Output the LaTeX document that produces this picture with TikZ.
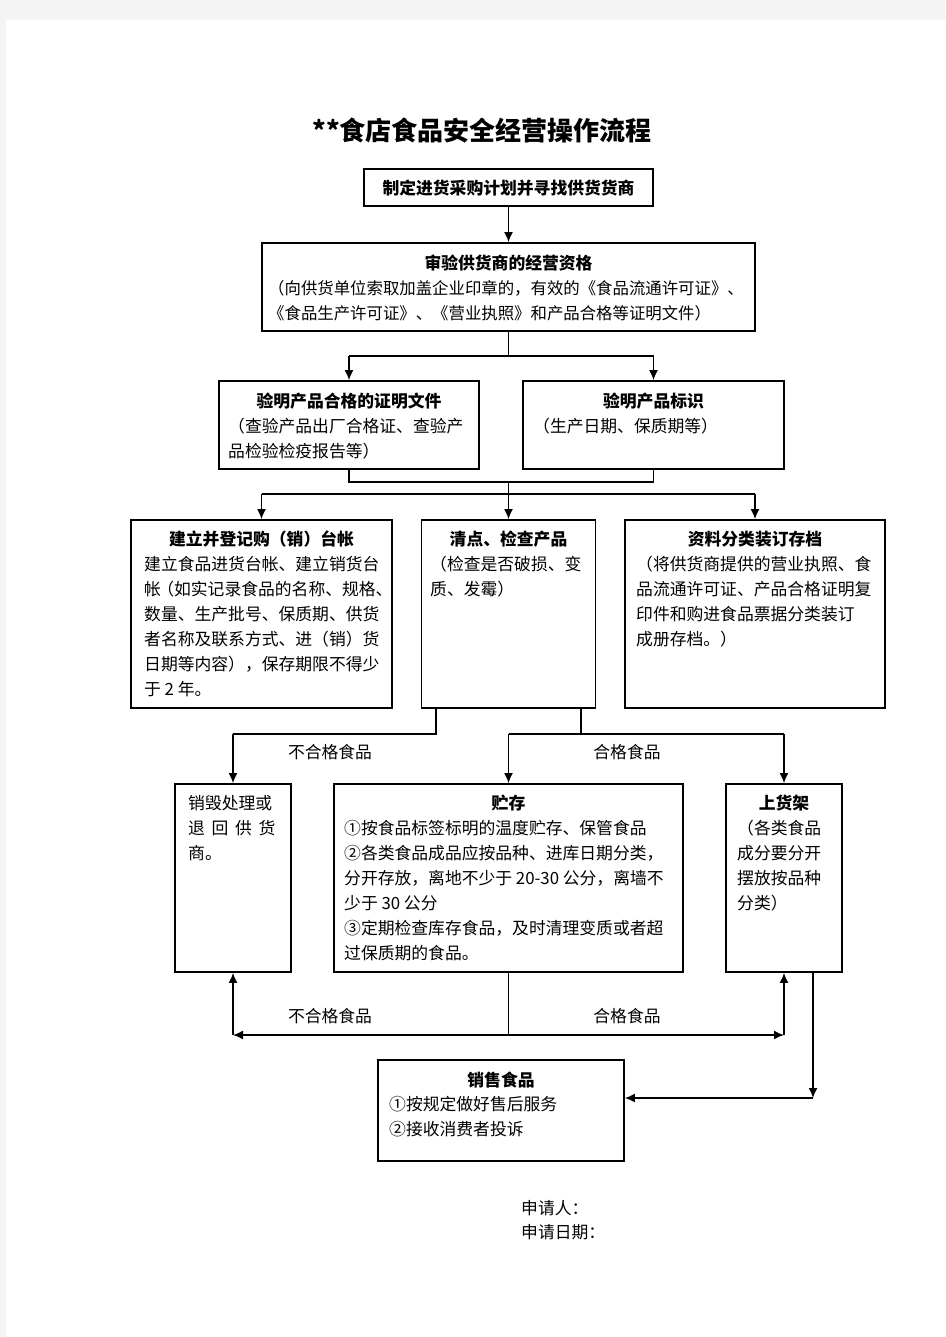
\documentclass[tikz,border=0pt]{standalone}
\usepackage{fontspec}
\setmainfont{Noto Sans CJK SC}
\usetikzlibrary{arrows.meta}
\definecolor{pagebg}{HTML}{F4F4F4}
\begin{document}
\begin{tikzpicture}[x=1pt,y=-1pt,
 box/.style={draw, line width=1.8pt, inner sep=0pt, rectangle},
 ttl/.style={font=\fontsize{16.8}{25}\selectfont\bfseries, inner sep=0pt, anchor=center},
 body/.style={font=\fontsize{16.8}{25}\selectfont, inner sep=0pt, align=left, anchor=north west},
 lbl/.style={font=\fontsize{16.8}{25}\selectfont, inner sep=0pt},
 ln/.style={line width=1.5pt},
 arr/.style={line width=1.5pt, -{Latex[length=10pt,width=9pt]}},
]
\useasboundingbox (0,0) rectangle (945,1337);
\fill[pagebg] (0,0) rectangle (945,1337);
\fill[white] (6,20) rectangle (945,1337);

% title
\node[font=\fontsize{26}{30}\selectfont\bfseries, inner sep=0pt] (title) at (482,131) {**食店食品安全经营操作流程};

% row 1
\node[box, minimum width=289pt, minimum height=37pt] (b1) at (508.5,187.5) {};
\node[ttl] (t1) at (508.5,188) {制定进货采购计划并寻找供货货商};

% row 2
\node[box, minimum width=493pt, minimum height=88pt] (b2) at (508.5,287) {};
\node[ttl] (t2) at (508.5,263) {审验供货商的经营资格};
\node[body, font=\fontsize{16.4}{25}\selectfont] (d2) at (268,280) {（向供货单位索取加盖企业印章的，有效的《食品流通许可证》、\\《食品生产许可证》、《营业执照》和产品合格等证明文件）};

% row 3
\node[box, minimum width=260pt, minimum height=88pt] (b3a) at (349,425) {};
\node[ttl] (t3a) at (349,401) {验明产品合格的证明文件};
\node[body] (d3a) at (228,418) {（查验产品出厂合格证、查验产\\品检验检疫报告等）};

\node[box, minimum width=261pt, minimum height=88pt] (b3b) at (653.5,425) {};
\node[ttl] (t3b) at (653.5,401) {验明产品标识};
\node[body] (d3b) at (533,418) {（生产日期、保质期等）};

% row 4
\node[box, minimum width=261pt, minimum height=188pt] (b4a) at (261.5,614) {};
\node[ttl] (t4a) at (261.5,539) {建立并登记购（销）台帐};
\node[body] (d4a) at (144,556) {建立食品进货台帐、建立销货台\\帐\hspace{-0.22em}（如实记录食品的名称、规格、\\数量、生产批号、保质期、供货\\者名称及联系方式、进（销）货\\日期等内容），保存期限不得少\\于 2 年。};

\node[box, minimum width=174pt, minimum height=188pt] (b4b) at (508.5,614) {};
\node[ttl] (t4b) at (508.5,539) {清点、检查产品};
\node[body] (d4b) at (430,556) {（检查是否破损、变\\质、发霉）};

\node[box, minimum width=260pt, minimum height=188pt] (b4c) at (755,614) {};
\node[ttl] (t4c) at (755,539) {资料分类装订存档};
\node[body] (d4c) at (636,556) {（将供货商提供的营业执照、食\\品流通许可证、产品合格证明复\\印件和购进食品票据分类装订\\成册存档。）};

% row 5
\node[box, minimum width=116pt, minimum height=188pt] (b5a) at (233,878) {};
\node[body] (d5a) at (188,795) {销毁处理或\\\makebox[5.2em][s]{退\hfill 回\hfill 供\hfill 货}\\商。};

\node[box, minimum width=349pt, minimum height=188pt] (b5b) at (508.5,878) {};
\node[ttl] (t5b) at (508.5,803) {贮存};
\node[body] (d5b) at (344,820) {①按食品标签标明的温度贮存、保管食品\\②各类食品成品应按品种、进库日期分类，\\分开存放，离地不少于 20-30 公分，离墙不\\少于 30 公分\\③定期检查库存食品，及时清理变质或者超\\过保质期的食品。};

\node[box, minimum width=116pt, minimum height=188pt] (b5c) at (784,878) {};
\node[ttl] (t5c) at (784,803) {上货架};
\node[body] (d5c) at (737,820) {（各类食品\\成分要分开\\摆放按品种\\分类）};

% row 6
\node[box, minimum width=246pt, minimum height=101pt] (b6) at (501,1110.5) {};
\node[ttl] (t6) at (501,1080) {销售食品};
\node[body] (d6) at (389,1096) {①按规定做好售后服务\\②接收消费者投诉};

% signatures
\node[lbl, anchor=west] (s1) at (521,1208) {申请人：};
\node[lbl, anchor=west] (s2) at (521,1232) {申请日期：};

% connectors
\draw[arr] (b1.south) -- (b2.north);

\coordinate (j1) at (508.5,356);
\draw[ln] (b2.south) -- (j1);
\draw[ln] (b3a.north |- j1) -- (b3b.north |- j1);
\draw[arr] (b3a.north |- j1) -- (b3a.north);
\draw[arr] (b3b.north |- j1) -- (b3b.north);

\coordinate (j2) at (508.5,482);
\coordinate (j3) at (508.5,494);
\draw[ln] (b3a.south) -- (b3a.south |- j2) -- (b3b.south |- j2) -- (b3b.south);
\draw[ln] (j2) -- (j3);
\draw[ln] (b4a.north |- j3) -- (b4c.north |- j3);
\draw[arr] (b4a.north |- j3) -- (b4a.north);
\draw[arr] (j3) -- (b4b.north);
\draw[arr] (b4c.north |- j3) -- (b4c.north);

\coordinate (k1) at (436,734);
\coordinate (k2) at (581,734);
\draw[ln] (k1 |- b4b.south) -- (k1) -- (b5a.north |- k1);
\draw[arr] (b5a.north |- k1) -- (b5a.north);
\draw[ln] (k2 |- b4b.south) -- (k2);
\draw[ln] (b5b.north |- k2) -- (b5c.north |- k2);
\draw[arr] (b5b.north |- k2) -- (b5b.north);
\draw[arr] (b5c.north |- k2) -- (b5c.north);
\node[lbl] (l1) at (330,752) {不合格食品};
\node[lbl] (l2) at (627,752) {合格食品};

\coordinate (m) at (508.5,1035);
\draw[ln] (b5b.south) -- (m);
\draw[arr] (m) -- (b5a.south |- m);
\draw[arr] (b5a.south |- m) -- (b5a.south);
\draw[arr] (m) -- (b5c.south |- m);
\draw[arr] (b5c.south |- m) -- (b5c.south);
\node[lbl] (l3) at (330,1016) {不合格食品};
\node[lbl] (l4) at (627,1016) {合格食品};

\coordinate (r1) at (813,972);
\coordinate (r2) at (813,1098);
\draw[arr] (r1) -- (r2);
\draw[arr] (r2) -- (b6.east |- r2);
\end{tikzpicture}
\end{document}
